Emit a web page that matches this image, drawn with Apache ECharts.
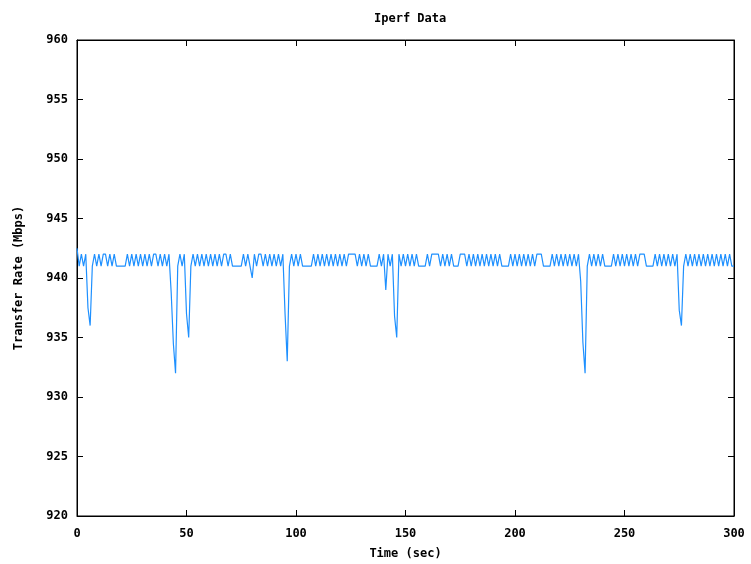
<!DOCTYPE html>
<html>
<head>
<meta charset="utf-8">
<script src="https://cdn.jsdelivr.net/npm/echarts@6/dist/echarts.min.js"></script>
<style>
html,body{margin:0;padding:0;background:#fff;}
#chart{width:751px;height:564px;}
</style>
</head>
<body>
<div id="chart"></div>
<script>
const chartTitle = 'Iperf Data';
const xAxisName = 'Time (sec)';
const yAxisName = 'Transfer Rate (Mbps)';
const xTicks = [0, 50, 100, 150, 200, 250, 300];
const yTicks = [920, 925, 930, 935, 940, 945, 950, 955, 960];
// transfer rate per second, t = 0..300
const rates = [
942.5,941,942,941,942,937.5,936,941,942,941,
942,941,942,942,941,942,941,942,941,941,
941,941,941,942,941,942,941,942,941,942,
941,942,941,942,941,942,942,941,942,941,
942,941,942,938.8,934.5,932,941,942,941,942,
937,935,941,942,941,942,941,942,941,942,
941,942,941,942,941,942,941,942,942,941,
942,941,941,941,941,941,942,941,942,941,
940,942,941,942,942,941,942,941,942,941,
942,941,942,941,942,937,933,941,942,941,
942,941,942,941,941,941,941,941,942,941,
942,941,942,941,942,941,942,941,942,941,
942,941,942,941,942,942,942,942,941,942,
941,942,941,942,941,941,941,941,942,941,
942,939,942,941,942,936.8,935,942,941,942,
941,942,941,942,941,942,941,941,941,941,
942,941,942,942,942,942,941,942,941,942,
941,942,941,941,941,942,942,942,941,942,
941,942,941,942,941,942,941,942,941,942,
941,942,941,942,941,941,941,941,942,941,
942,941,942,941,942,941,942,941,942,941,
942,942,942,941,941,941,941,942,941,942,
941,942,941,942,941,942,941,942,941,942,
939.7,934.6,932,941,942,941,942,941,942,941,
942,941,941,941,941,942,941,942,941,942,
941,942,941,942,941,942,941,942,942,942,
941,941,941,941,942,941,942,941,942,941,
942,941,942,941,942,937.3,936,941,942,941,
942,941,942,941,942,941,942,941,942,941,
942,941,942,941,942,941,942,941,942,941,
941
];
const times = rates.map((v, i) => i);
const seriesData = times.map((t, i) => [t, rates[i]]);

const FONT = '"DejaVu Sans Mono", monospace';
const chart = echarts.init(document.getElementById('chart'), null, {renderer: 'canvas'});
const xMin = xTicks[0], xMax = xTicks[xTicks.length - 1];
const yMin = yTicks[0], yMax = yTicks[yTicks.length - 1];
const xInt = xTicks[1] - xTicks[0], yInt = yTicks[1] - yTicks[0];
const lbl = {fontFamily: FONT, fontWeight: 'bold', fontSize: 12, color: '#000'};
const tick = {show: true, inside: true, length: 6, lineStyle: {color: '#000', width: 1}};
chart.setOption({
  animation: false,
  backgroundColor: '#fff',
  title: {
    text: chartTitle, left: 369, top: 8,
    textStyle: {fontFamily: FONT, fontWeight: 'bold', fontSize: 12, color: '#000'}
  },
  grid: {left: 77, right: 17, top: 40, bottom: 48, show: true, borderColor: '#000', borderWidth: 1,
         backgroundColor: '#fff', containLabel: false, outerBoundsMode: 'none'},
  xAxis: [{
    type: 'value', position: 'bottom', min: xMin, max: xMax, interval: xInt,
    name: xAxisName, nameLocation: 'middle', nameGap: 32,
    nameTextStyle: lbl,
    axisLine: {show: true, onZero: false, lineStyle: {color: '#000', width: 1}},
    axisTick: tick,
    axisLabel: Object.assign({margin: 12}, lbl),
    splitLine: {show: false}
  }, {
    type: 'value', position: 'top', min: xMin, max: xMax, interval: xInt,
    axisLine: {show: true, onZero: false, lineStyle: {color: '#000', width: 1}},
    axisTick: tick,
    axisLabel: {show: false}, splitLine: {show: false}
  }],
  yAxis: [{
    type: 'value', position: 'left', min: yMin, max: yMax, interval: yInt,
    name: yAxisName, nameLocation: 'middle', nameGap: 52, nameRotate: 90,
    nameTextStyle: lbl,
    axisLine: {show: true, onZero: false, lineStyle: {color: '#000', width: 1}},
    axisTick: tick,
    axisLabel: Object.assign({margin: 9}, lbl),
    splitLine: {show: false}
  }, {
    type: 'value', position: 'right', min: yMin, max: yMax, interval: yInt,
    axisLine: {show: true, onZero: false, lineStyle: {color: '#000', width: 1}},
    axisTick: tick,
    axisLabel: {show: false}, splitLine: {show: false}
  }],
  series: [{
    type: 'line', xAxisIndex: 0, yAxisIndex: 0,
    data: seriesData, showSymbol: false, symbol: 'none',
    lineStyle: {color: '#1e90ff', width: 1.2},
    itemStyle: {color: '#1e90ff'}
  }]
});
</script>
</body>
</html>
